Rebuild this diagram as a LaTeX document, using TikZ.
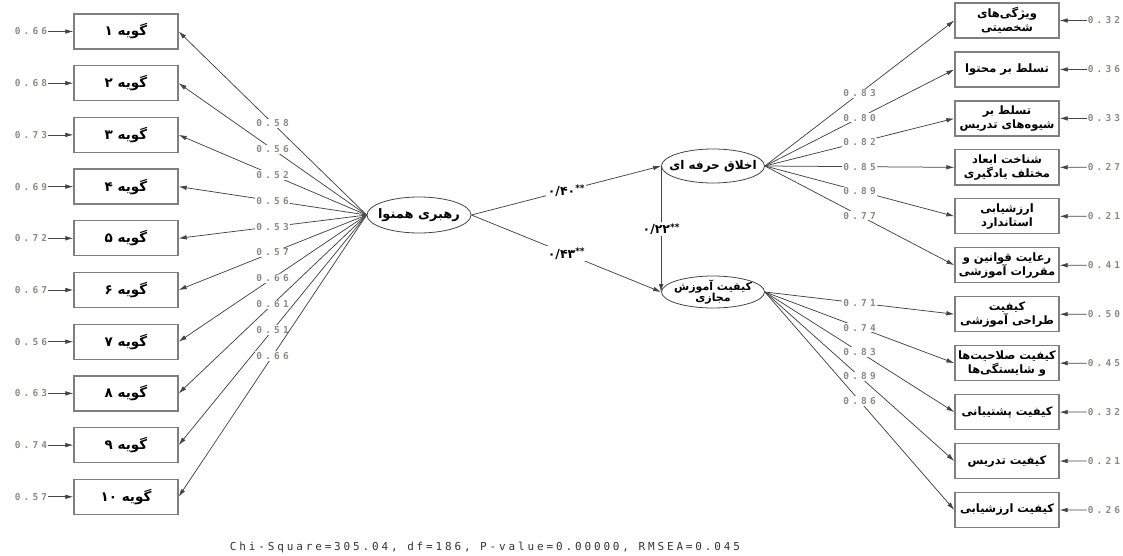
\documentclass[tikz,border=0pt]{standalone}
\usepackage{fontspec}
\usetikzlibrary{shapes.geometric,arrows.meta}
\TeXXeTstate=1
\newfontfamily\farsi[Script=Arabic]{DejaVu Sans}
\newfontfamily\monof[LetterSpace=33]{DejaVu Sans Mono Bold}
\newfontfamily\monob[LetterSpace=26]{DejaVu Sans Mono}
\newcommand{\pr}[1]{\beginR #1\endR}
\newcommand{\stars}{\raisebox{3.5pt}{\fontsize{9}{9}\selectfont **}}
\definecolor{boxc}{HTML}{7F7F7F}
\definecolor{linec}{HTML}{444444}
\definecolor{numc}{HTML}{8E8984}
\tikzset{
  obs/.style={draw=boxc, line width=1.3pt, minimum width=104pt, minimum height=35pt, inner sep=1pt, align=center, font={\farsi\bfseries\fontsize{11.5}{14}\selectfont}},
  obsl/.style={obs, font={\farsi\bfseries\fontsize{13.5}{15}\selectfont}},
  latent/.style={draw=linec, ellipse, line width=0.8pt, inner sep=0pt},
  lattext/.style={align=center, inner sep=0pt, font={\farsi\bfseries\fontsize{13}{13}\selectfont}},
  lattextp/.style={align=center, inner sep=0pt, font={\farsi\bfseries\fontsize{12}{12}\selectfont}},
  lattext2/.style={align=center, inner sep=0pt, font={\farsi\bfseries\fontsize{11}{11.5}\selectfont}},
  arr/.style={draw=linec, line width=0.75pt, -{Latex[length=8pt,width=4.6pt]}},
  lab/.style={fill=white, inner sep=1pt, text=numc, font={\monof\fontsize{9.5}{11}\selectfont}},
  err/.style={inner sep=1pt, text=numc, font={\monof\fontsize{9.5}{11}\selectfont}},
  coef/.style={fill=white, inner sep=1.5pt, font={\farsi\bfseries\fontsize{12.5}{13}\selectfont}}
}
\begin{document}
\begin{tikzpicture}[x=1pt,y=-1pt]
\useasboundingbox (0,0) rectangle (1123,556);
% latent variables
\node[latent, minimum width=104pt, minimum height=36pt] (L) at (419,215) {};
\node[lattext] (Lt) at (L) {\pr{رهبری همنوا}};
\node[latent, minimum width=103pt, minimum height=34pt] (P) at (713,166) {};
\node[lattextp] (Pt) at (P) {\pr{اخلاق حرفه ای}};
\node[latent, minimum width=103pt, minimum height=32pt] (V) at (713,292) {};
\node[lattext2] (Vt) at (V) {\pr{کیفیت آموزش}\\\pr{مجازی}};
% left indicators
\foreach \i/\d/\ld/\er in {1/۱/0.58/0.66,2/۲/0.56/0.68,3/۳/0.52/0.73,4/۴/0.56/0.69,5/۵/0.53/0.72,6/۶/0.57/0.67,7/۷/0.66/0.56,8/۸/0.61/0.63,9/۹/0.51/0.74,10/۱۰/0.66/0.57}{
  \node[obsl] (B\i) at (126,{31.5+51.7*(\i-1)}) {\pr{گویه \d}};
  \node[err] (E\i) at (31,{31.5+51.7*(\i-1)}) {\er};
  \draw[arr] (E\i.east) -- (B\i.west);
  \draw[arr] (L.west) -- node[lab] (LL\i) {\ld} (B\i.east);
}
% right indicators
\node[obs] (R1) at (1007,20.5) {\pr{ویژگی‌های}\\\pr{شخصیتی}};
\node[obs] (R2) at (1007,69.45) {\pr{تسلط بر محتوا}};
\node[obs] (R3) at (1007,118.4) {\pr{تسلط بر}\\\pr{شیوه‌های تدریس}};
\node[obs] (R4) at (1007,167.35) {\pr{شناخت ابعاد}\\\pr{مختلف یادگیری}};
\node[obs] (R5) at (1007,216.3) {\pr{ارزشیابی}\\\pr{استاندارد}};
\node[obs] (R6) at (1007,265.25) {\pr{رعایت قوانین و}\\\pr{مقررات آموزشی}};
\node[obs] (R7) at (1007,314.2) {\pr{کیفیت}\\\pr{طراحی آموزشی}};
\node[obs] (R8) at (1007,363.15) {\pr{کیفیت صلاحیت‌ها}\\\pr{و شایستگی‌ها}};
\node[obs] (R9) at (1007,412.1) {\pr{کیفیت پشتیبانی}};
\node[obs] (R10) at (1007,461.05) {\pr{کیفیت تدریس}};
\node[obs] (R11) at (1007,510) {\pr{کیفیت ارزشیابی}};
\foreach \j/\er in {1/0.32,2/0.36,3/0.33,4/0.27,5/0.21,6/0.41,7/0.50,8/0.45,9/0.32,10/0.21,11/0.26}{
  \node[err] (F\j) at (1104,{20.5+48.95*(\j-1)}) {\er};
  \draw[arr] (F\j.west) -- (R\j.east);
}
\foreach \j/\ld in {1/0.83,2/0.80,3/0.82,4/0.85,5/0.89,6/0.77}{
  \draw[arr] (P.east) -- node[lab] (PL\j) {\ld} (R\j.west);
}
\foreach \j/\ld in {7/0.71,8/0.74,9/0.83,10/0.89,11/0.86}{
  \draw[arr] (V.east) -- node[lab] (VL\j) {\ld} (R\j.west);
}
% structural paths
\draw[arr] (L.east) -- node[coef] (c1) {۰/۴۰\stars} (P.west);
\draw[arr] (L.east) -- node[coef] (c2) {۰/۴۳\stars} (V.west);
\draw[arr] (P.west) -- node[coef] (c3) {۰/۲۲\stars} (V.west);
% fit statistics
\node[inner sep=0pt, text=black!80, font={\monob\fontsize{11}{12}\selectfont}] (fit) at (485,547) {Chi-Square=305.04, df=186, P-value=0.00000, RMSEA=0.045};
\end{tikzpicture}
\end{document}
